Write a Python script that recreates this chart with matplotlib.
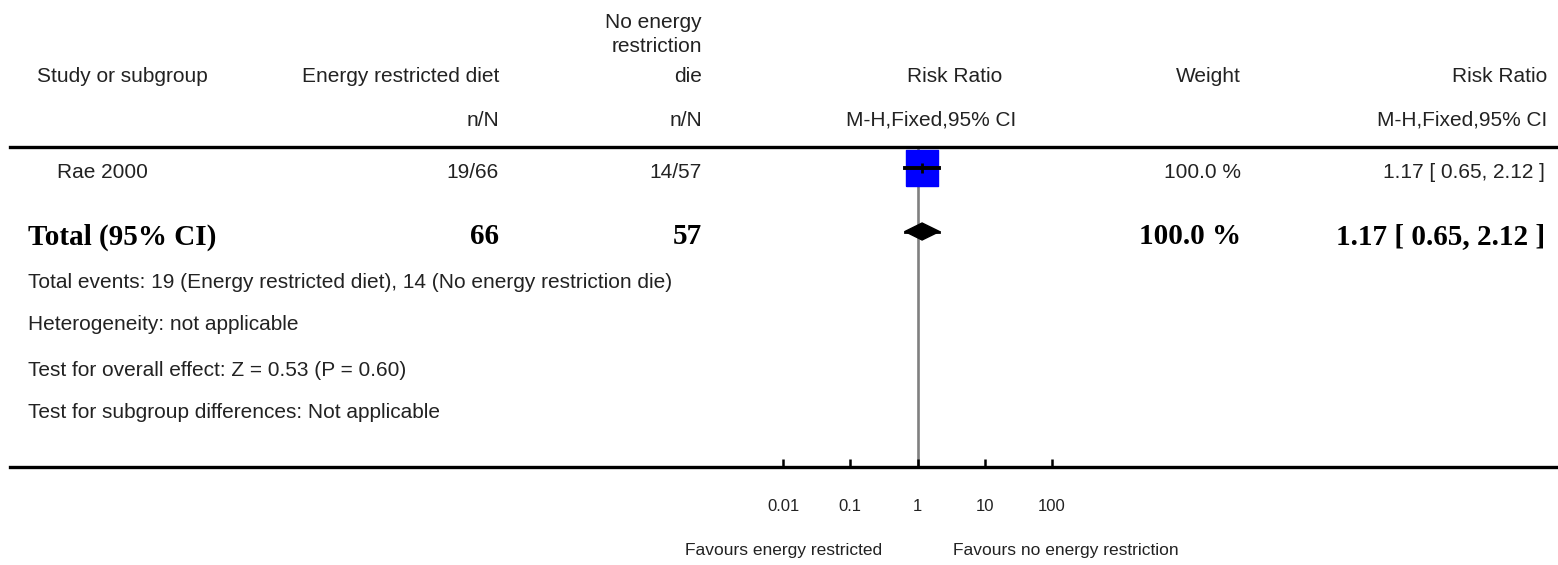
#!/usr/bin/env python3
"""Forest plot: energy restricted diet vs no energy restriction (risk ratio)."""
import matplotlib
matplotlib.use("Agg")
import matplotlib.pyplot as plt
from matplotlib.patches import Polygon

W, H = 1558, 565
SANS = ["Liberation Sans", "DejaVu Sans"]
SERIF = ["Liberation Serif", "DejaVu Serif"]
TXT = "#222222"

# --- data ---
studies = ["Rae 2000"]
events_exp = [19]
total_exp = [66]
events_ctl = [14]
total_ctl = [57]
rr = [1.17]
ci_low = [0.65]
ci_high = [2.12]
weights = [100.0]

pooled_rr = 1.17
pooled_low = 0.65
pooled_high = 2.12
z_value = 0.53
p_value = 0.60

ticks = [0.01, 0.1, 1, 10, 100]
tick_labels = ["0.01", "0.1", "1", "10", "100"]

exp_name = "Energy restricted diet"
ctl_name = "No energy restriction die"


def fx(x):
    return x / W


def fy(y):
    return 1 - y / H


def put(x, y, s, ha="left", size=15, bold=False, serif=False):
    fig.text(fx(x), fy(y), s, ha=ha, va="center", fontsize=size, color=TXT if not bold else "black",
             family=SERIF if serif else SANS, fontweight="bold" if bold else "normal")


fig = plt.figure(figsize=(W / 100, H / 100), dpi=100, facecolor="white")

# forest panel: spans whole width, top/bottom spines are the table rules
ax = fig.add_axes([fx(10), fy(467), fx(1548), (467 - 147) / H])
ax.set_xscale("log")
ax.set_xlim(10 ** ((10 - 917.5) / 67.25), 10 ** ((1558 - 917.5) / 67.25))
ax.set_ylim(467, 147)
for side in ("left", "right"):
    ax.spines[side].set_visible(False)
for side in ("top", "bottom"):
    ax.spines[side].set_linewidth(2.4)
ax.set_yticks([])
ax.set_xticks(ticks)
ax.set_xticklabels(tick_labels, family=SANS, fontsize=12, color=TXT)
ax.xaxis.set_minor_locator(matplotlib.ticker.NullLocator())
ax.tick_params(axis="x", direction="in", length=5.5, width=1.8, pad=23, color="black")

ax.axvline(1, color="#808080", lw=1.9, zorder=1)

row_y = [168]
for i, y in enumerate(row_y):
    ax.plot([rr[i]], [y], linestyle="none", color="#0000ff",
            marker=[(-0.43, -0.5), (0.43, -0.5), (0.43, 0.5), (-0.43, 0.5), (-0.43, -0.5)],
            markersize=26, zorder=2)
    ax.plot([ci_low[i], ci_high[i]], [y, y], color="black", lw=2.8, zorder=3)
    ax.plot([rr[i]], [y], marker="|", color="black", markersize=7.5, mew=2, zorder=3)

total_y = 231.5
ax.plot([pooled_low, pooled_high], [total_y, total_y], color="black", lw=2, zorder=3)
ax.add_patch(Polygon([(pooled_low, total_y), (pooled_rr, total_y - 8.5),
                      (pooled_high, total_y), (pooled_rr, total_y + 8.5)],
                     closed=True, color="black", zorder=3))

# --- header ---
put(37, 77, "Study or subgroup")
put(499, 77, exp_name, ha="right")
put(499, 120, "n/N", ha="right")
put(702, 22, "No energy", ha="right")
put(702, 47, "restriction", ha="right")
put(702, 77, "die", ha="right")
put(702, 120, "n/N", ha="right")
put(955, 77, "Risk Ratio", ha="center")
put(931, 120, "M-H,Fixed,95% CI", ha="center")
put(1241, 77, "Weight", ha="right")
put(1547, 77, "Risk Ratio", ha="right")
put(1547, 120, "M-H,Fixed,95% CI", ha="right")

# --- study rows ---
for i, y in enumerate(row_y):
    put(57, y + 5, studies[i])
    put(499, y + 5, f"{events_exp[i]}/{total_exp[i]}", ha="right")
    put(702, y + 5, f"{events_ctl[i]}/{total_ctl[i]}", ha="right")
    put(1241, y + 5, f"{weights[i]:.1f} %", ha="right")
    put(1545, y + 5, f"{rr[i]:.2f} [ {ci_low[i]:.2f}, {ci_high[i]:.2f} ]", ha="right")

# --- total row ---
TS = 21
put(28, 237, "Total (95% CI)", size=TS, bold=True, serif=True)
put(499, 237, f"{sum(total_exp)}", ha="right", size=TS, bold=True, serif=True)
put(702, 237, f"{sum(total_ctl)}", ha="right", size=TS, bold=True, serif=True)
put(1241, 237, f"{sum(weights):.1f} %", ha="right", size=TS, bold=True, serif=True)
put(1545, 237, f"{pooled_rr:.2f} [ {pooled_low:.2f}, {pooled_high:.2f} ]", ha="right",
    size=TS, bold=True, serif=True)

put(28, 283, f"Total events: {sum(events_exp)} ({exp_name}), {sum(events_ctl)} ({ctl_name})")
put(28, 325, "Heterogeneity: not applicable")
put(28, 370, f"Test for overall effect: Z = {z_value:.2f} (P = {p_value:.2f})")
put(28, 413, "Test for subgroup differences: Not applicable")

# --- favours labels ---
put(784, 551, "Favours energy restricted", ha="center", size=12.5)
put(1066, 551, "Favours no energy restriction", ha="center", size=12.5)

fig.savefig("out.png", dpi=100, facecolor="white")
